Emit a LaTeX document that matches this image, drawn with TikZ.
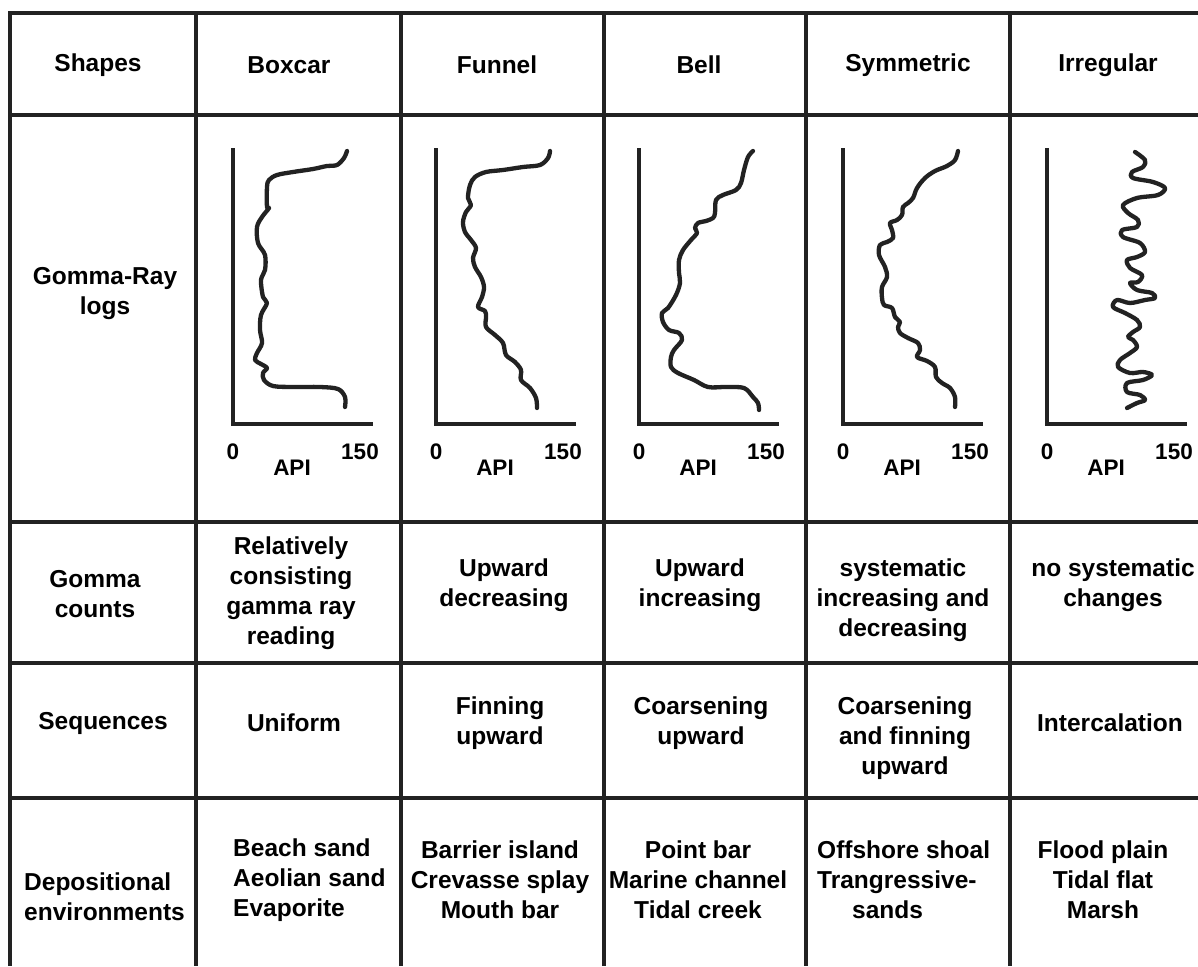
\documentclass[tikz,border=0pt]{standalone}
\usepackage{fontspec}
\setmainfont{Liberation Sans}
\usepackage{tikz}
\usetikzlibrary{positioning}
\definecolor{gridInk}{HTML}{222222}
\tikzset{
  cellText/.style={font=\bfseries\fontsize{24.5}{30}\selectfont, align=center, inner sep=0pt},
  apiText/.style={font=\bfseries\fontsize{22.5}{26}\selectfont, inner sep=0pt},
  gridLine/.style={gridInk, line width=4pt},
  logAxis/.style={gridInk, line width=4pt, line join=miter},
  logCurve/.style={gridInk, line width=4.3pt, line cap=round, line join=round}
}
% one log panel: name, x of the axis, points of the curve
\newcommand{\gammaPanel}[3]{%
  \begin{scope}[shift={(#2,424)}, y=1pt]
    \coordinate (#1O) at (0,0);
    \draw[logAxis] (0,276) -- (#1O) -- (140,0);
    \draw[logCurve] plot[smooth, tension=0.55] coordinates {#3};
    \node[apiText] (#1Zero) at (0,-28) {0};
    \node[apiText] (#1Max) at (127,-28) {150};
    \node[apiText] (#1Api) at (59,-44) {API};
  \end{scope}}

\begin{document}
\begin{tikzpicture}[x=1pt, y=-1pt]
  \useasboundingbox[fill=white] (0,0) rectangle (1198,966);

  \foreach \gx in {10,196,401,604,806,1010}
    \draw[gridLine] (\gx,13) -- (\gx,966);
  \draw[gridLine] (8,13) -- (1198,13);
  \foreach \gy in {115,522,663,798}
    \draw[gridLine] (10,\gy) -- (1198,\gy);

  % header row
  \node[cellText] (hdShapes) at (98,65) {Shapes};
  \node[cellText] (hdBoxcar) at (289,65) {Boxcar};
  \node[cellText] (hdFunnel) at (497,65) {Funnel};
  \node[cellText] (hdBell) at (699,65) {Bell};
  \node[cellText] (hdSymmetric) at (908,65) {Symmetric};
  \node[cellText] (hdIrregular) at (1108,65) {Irregular};

  % logs
  \node[cellText] (lgTitle) at (105,294) {Gomma-Ray\\logs};
  \gammaPanel{bx}{233}{(114,273) (111,266) (104,259) (94,258) (80,255) (60,252) (44,249) (36,244) (34,237) (34,217) (36,216) (29,207) (24,197) (25,181) (32,169) (32,154) (28,144) (30,127) (34,121) (28,109) (27,94) (29,81) (24,71) (22,64) (28,60) (34,56) (30,51) (31,44) (40,38) (60,37) (87,37) (105,35) (112,27) (112,17)}
  \gammaPanel{fn}{436}{(114,273) (112,266) (104,259) (87,257) (67,254) (50,252) (39,247) (34,239) (32,226) (35,219) (30,212) (27,202) (29,192) (35,184) (40,176) (37,166) (39,157) (45,147) (48,137) (46,127) (42,117) (49,113) (50,107) (50,97) (59,89) (67,81) (70,69) (79,62) (85,54) (85,44) (94,36) (100,26) (101,16)}
  \gammaPanel{bl}{639}{(114,273) (109,267) (105,254) (102,241) (97,234) (84,229) (77,224) (76,211) (74,206) (67,203) (59,201) (56,196) (58,191) (52,184) (44,174) (40,164) (40,151) (41,141) (37,129) (29,116) (23,111) (24,102) (30,94) (40,91) (43,84) (35,74) (32,67) (32,57) (39,51) (55,44) (69,37) (87,37) (105,36) (114,27) (119,21) (120,14)}
  \gammaPanel{sy}{843}{(115,273) (112,264) (104,258) (92,253) (82,246) (74,236) (70,226) (65,221) (60,217) (59,209) (54,204) (47,201) (49,194) (50,186) (44,182) (37,179) (36,169) (42,157) (44,147) (39,137) (39,126) (41,119) (49,116) (52,107) (57,102) (55,97) (57,91) (65,86) (75,81) (77,74) (74,67) (84,63) (92,57) (93,47) (99,41) (107,36) (112,27) (112,17)}
  \gammaPanel{ir}{1047}{(88,272) (98,264) (96,257) (85,252) (86,246) (106,242) (118,236) (111,229) (90,226) (76,219) (81,211) (91,204) (90,197) (75,194) (76,187) (93,181) (98,172) (90,167) (80,164) (83,156) (95,149) (91,142) (83,141) (90,134) (105,131) (108,126) (98,124) (83,121) (70,124) (66,117) (78,111) (90,104) (93,97) (86,92) (81,87) (86,84) (90,77) (83,71) (73,64) (71,57) (83,51) (96,52) (105,49) (96,44) (80,41) (80,32) (93,29) (98,24) (90,21) (80,16)}

  % counts
  \node[cellText] (ctTitle) at (95,594) {Gomma\\counts};
  \node[cellText] (ctBoxcar) at (291,593) {Relatively\\consisting\\gamma ray\\reading};
  \node[cellText] (ctFunnel) at (504,585) {Upward\\decreasing};
  \node[cellText] (ctBell) at (700,585) {Upward\\increasing};
  \node[cellText] (ctSymmetric) at (903,600) {systematic\\increasing and\\decreasing};
  \node[cellText] (ctIrregular) at (1113,585) {no systematic\\changes};

  % sequences
  \node[cellText] (sqTitle) at (103,723) {Sequences};
  \node[cellText] (sqBoxcar) at (294,723) {Uniform};
  \node[cellText] (sqFunnel) at (500,723) {Finning\\upward};
  \node[cellText] (sqBell) at (701,723) {Coarsening\\upward};
  \node[cellText] (sqSymmetric) at (905,738) {Coarsening\\and finning\\upward};
  \node[cellText] (sqIrregular) at (1110,723) {Intercalation};

  % environments
  \node[cellText, align=left, anchor=west] (evTitle) at (24,897) {Depositional\\environments};
  \node[cellText, align=left, anchor=west] (evBoxcar) at (233,880) {Beach sand\\Aeolian sand\\Evaporite};
  \node[cellText] (evFunnel) at (500,880) {Barrier island\\Crevasse splay\\Mouth bar};
  \node[cellText] (evBell) at (698,880) {Point bar\\Marine channel\\Tidal creek};
  \node[cellText, align=left, anchor=west] (evSymmetric) at (817,880) {Offshore shoal\\Trangressive-\\\hspace*{35pt}sands};
  \node[cellText] (evIrregular) at (1103,880) {Flood plain\\Tidal flat\\Marsh};
\end{tikzpicture}
\end{document}
